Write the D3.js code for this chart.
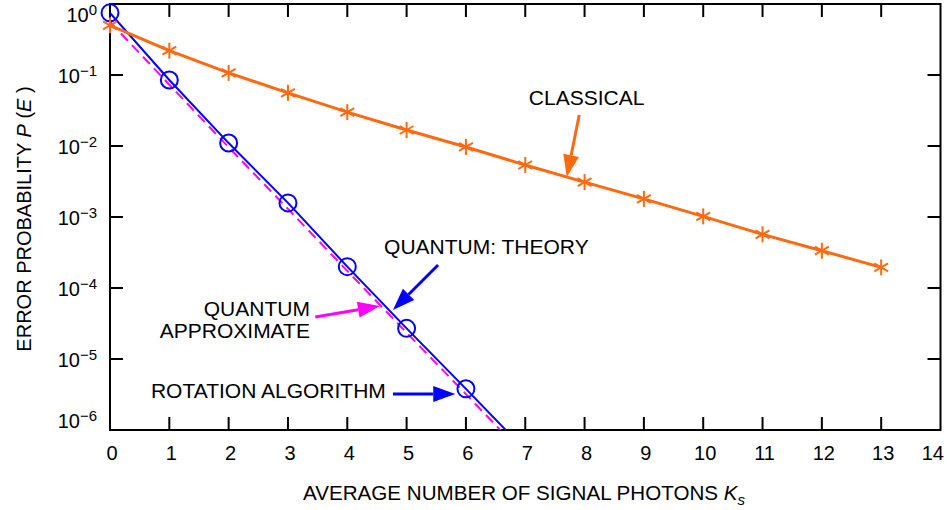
<!DOCTYPE html>
<html>
<head>
<meta charset="utf-8">
<script src="https://cdn.jsdelivr.net/npm/d3@7"></script>
<style>
  body { margin: 0; background: #fff; }
  svg { display: block; font-family: Arial, "Liberation Sans", Helvetica, sans-serif; }
</style>
</head>
<body>
<svg id="chart" width="947" height="510"></svg>
<script>
// signal photons K_s
const photons = [0, 1, 2, 3, 4, 5, 6, 7, 8, 9, 10, 11, 12, 13];
// values
const classical = [0.5, 0.22, 0.107, 0.056, 0.030, 0.0168, 0.0097, 0.0054, 0.0031, 0.0018, 0.00102, 0.00057, 0.000335, 0.000195];
const quantumTheory = [0.75, 0.085, 0.011, 0.00158, 0.0002, 0.000027, 0.0000038, 0.00000052];
const quantumApprox = [0.56, 0.073, 0.0096, 0.0013, 0.000174, 0.0000235, 0.0000032, 0.00000043];
const xTicks = [0, 1, 2, 3, 4, 5, 6, 7, 8, 9, 10, 11, 12, 13, 14];
const yTicks = [0, -1, -2, -3, -4, -5, -6];

const orange = '#ff6a10', blue = '#0000ff', magenta = '#ff00ff';

const svg = d3.select('#chart');
const pLeft = 110, pRight = 940.5, pTop = 4, pBottom = 430;

const x = d3.scaleLinear().domain([0, 14]).range([pLeft, pRight]);
const y = d3.scaleLog().domain([1e-6, 1]).range([pBottom, pTop]);

svg.append('clipPath').attr('id', 'plot')
  .append('rect').attr('x', pLeft).attr('y', pTop)
  .attr('width', pRight - pLeft).attr('height', pBottom - pTop);

// frame + inward ticks
const tickLen = 13;
const frame = svg.append('g').attr('stroke', '#000').attr('stroke-width', 2);
frame.append('rect').attr('x', pLeft).attr('y', pTop)
  .attr('width', pRight - pLeft).attr('height', pBottom - pTop).attr('fill', 'none');
xTicks.slice(1, -1).forEach(t => {
  frame.append('line').attr('x1', x(t)).attr('x2', x(t)).attr('y1', pBottom).attr('y2', pBottom - tickLen);
  frame.append('line').attr('x1', x(t)).attr('x2', x(t)).attr('y1', pTop).attr('y2', pTop + tickLen);
});
yTicks.slice(1, -1).forEach(e => {
  frame.append('line').attr('x1', pLeft).attr('x2', pLeft + tickLen).attr('y1', y(10 ** e)).attr('y2', y(10 ** e));
  frame.append('line').attr('x1', pRight).attr('x2', pRight - tickLen).attr('y1', y(10 ** e)).attr('y2', y(10 ** e));
});

// tick labels (last one pulled in so it stays on the page)
svg.append('g').selectAll('text').data(xTicks).join('text')
  .attr('x', (d, i) => i === xTicks.length - 1 ? 944 : x(d) + 2)
  .attr('y', 460)
  .attr('text-anchor', (d, i) => i === xTicks.length - 1 ? 'end' : 'middle')
  .attr('font-size', 20).text(d => d);

yTicks.forEach((e, i) => {
  const off = i === 0 ? 18 : (i === yTicks.length - 1 ? -2 : 8);
  const t = svg.append('text').attr('x', 97).attr('y', y(10 ** e) + off)
    .attr('text-anchor', 'end').attr('font-size', 20);
  t.append('tspan').text('10');
  t.append('tspan').attr('dy', -7).attr('font-size', 15).text(e === 0 ? '0' : '\u2212' + (-e));
});

// axis titles
const xt = svg.append('text').attr('x', 303).attr('y', 500).attr('font-size', 20.6);
xt.append('tspan').text('AVERAGE NUMBER OF SIGNAL PHOTONS ');
xt.append('tspan').attr('font-style', 'italic').text('K');
xt.append('tspan').attr('font-style', 'italic').attr('font-size', 15).attr('dy', 5).text('s');

const yt = svg.append('text').attr('transform', 'translate(31,219) rotate(-90)')
  .attr('text-anchor', 'middle').attr('font-size', 20);
yt.append('tspan').text('ERROR PROBABILITY ');
yt.append('tspan').attr('font-style', 'italic').text('P');
yt.append('tspan').text(' (');
yt.append('tspan').attr('font-style', 'italic').text('E');
yt.append('tspan').text(' )');

// series
const plot = svg.append('g').attr('clip-path', 'url(#plot)');
const line = d3.line().x(d => x(d[0])).y(d => y(d[1]));

plot.append('path').datum(quantumApprox.map((v, i) => [photons[i], v]))
  .attr('d', line).attr('fill', 'none').attr('stroke', magenta)
  .attr('stroke-width', 2).attr('stroke-dasharray', '10,6');

plot.append('path').datum(quantumTheory.map((v, i) => [photons[i], v]))
  .attr('d', line).attr('fill', 'none').attr('stroke', blue).attr('stroke-width', 2);

plot.append('path').datum(classical.map((v, i) => [photons[i], v]))
  .attr('d', line).attr('fill', 'none').attr('stroke', orange).attr('stroke-width', 3);

// circles at 0..6 for quantum theory
svg.append('g').selectAll('circle').data(quantumTheory.slice(0, 7)).join('circle')
  .attr('cx', (d, i) => x(photons[i])).attr('cy', d => y(d)).attr('r', 8.5)
  .attr('fill', 'none').attr('stroke', blue).attr('stroke-width', 2);

// asterisks for classical
const star = svg.append('g').attr('stroke', orange).attr('stroke-width', 2);
classical.forEach((v, i) => {
  const cx = x(photons[i]), cy = y(v), r = 8;
  [90, 30, -30].forEach(a => {
    const dx = r * Math.cos(a * Math.PI / 180), dy = r * Math.sin(a * Math.PI / 180);
    star.append('line').attr('x1', cx - dx).attr('x2', cx + dx).attr('y1', cy - dy).attr('y2', cy + dy);
  });
});

// annotations (positions in data units)
function arrow(from, to, color) {
  const x1 = x(from[0]), y1 = y(from[1]), x2 = x(to[0]), y2 = y(to[1]);
  const ang = Math.atan2(y2 - y1, x2 - x1), len = 22, hw = 8;
  const bx = x2 - len * Math.cos(ang), by = y2 - len * Math.sin(ang);
  svg.append('line').attr('x1', x1).attr('y1', y1).attr('x2', bx).attr('y2', by)
    .attr('stroke', color).attr('stroke-width', 3);
  svg.append('polygon')
    .attr('points', [[x2, y2],
      [bx + hw * Math.sin(ang), by - hw * Math.cos(ang)],
      [bx - hw * Math.sin(ang), by + hw * Math.cos(ang)]].map(p => p.join(',')).join(' '))
    .attr('fill', color);
}

function label(txt, px, py, anchor) {
  svg.append('text').attr('x', x(px)).attr('y', y(py)).attr('text-anchor', anchor)
    .attr('font-size', 21).text(txt);
}

label('CLASSICAL', 7.06, 0.0378, 'start');
arrow([7.91, 0.0273], [7.70, 0.00366], orange);

label('QUANTUM: THEORY', 4.62, 0.000301, 'start');
arrow([5.53, 0.000211], [4.77, 0.000049], blue);

label('QUANTUM', 3.37, 0.0000403, 'end');
label('APPROXIMATE', 3.37, 0.0000198, 'end');
arrow([3.46, 0.000039], [4.55, 0.0000557], magenta);

label('ROTATION ALGORITHM', 4.65, 0.00000282, 'end');
arrow([4.77, 0.00000321], [5.82, 0.00000321], blue);
</script>
</body>
</html>
